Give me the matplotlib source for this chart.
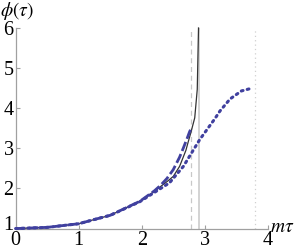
import matplotlib
matplotlib.use("Agg")
import matplotlib.pyplot as plt
import matplotlib.transforms as mtransforms
import numpy as np

plt.rcParams['mathtext.fontset'] = 'stix'
plt.rcParams['font.family'] = 'Liberation Serif'

x_exact = [0, 0.5, 1.0, 1.33, 1.5, 1.97, 2.2, 2.3, 2.4, 2.5, 2.6, 2.7, 2.74, 2.78, 2.84, 2.88, 2.90]
phi_exact = [1.0, 1.03, 1.12, 1.26, 1.33, 1.68, 1.93, 2.05, 2.17, 2.30, 2.55, 2.95, 3.18, 3.40, 3.76, 4.47, 6.0]

x_dashed = [0, 0.5, 1.0, 1.33, 1.5, 1.97, 2.2, 2.3, 2.4, 2.5, 2.6, 2.66, 2.72, 2.76, 2.78]
phi_dashed = [1.0, 1.03, 1.12, 1.26, 1.33, 1.68, 1.94, 2.08, 2.25, 2.47, 2.78, 3.01, 3.25, 3.42, 3.48]

x_dotted = [0, 0.5, 1.0, 1.33, 1.5, 1.97, 2.2, 2.44, 2.66, 2.92, 3.16, 3.24, 3.40, 3.58, 3.70, 3.76]
phi_dotted = [1.0, 1.03, 1.12, 1.26, 1.33, 1.67, 1.90, 2.14, 2.55, 3.22, 3.74, 3.93, 4.23, 4.43, 4.48, 4.49]

x_dash_line = 2.78
x_solid_line = 2.91
x_dot_line = 3.79

blue = '#40409f'

fig = plt.figure(figsize=(3.0, 2.52), dpi=100)
ax = fig.add_axes([0.052, 0.093, 0.841, 0.796])

ax.axvline(x_dash_line, color='#c8c8c8', lw=0.9, ls=(0, (4, 3)))
ax.axvline(x_solid_line, color='#d0d0d0', lw=1.3)
ax.axvline(x_dot_line, color='#d0d0d0', lw=0.9, ls=(0, (1, 2.5)))

ax.plot(x_exact, phi_exact, color='#333333', lw=0.9, clip_on=False, zorder=3)
ax.plot(x_dashed, phi_dashed, color=blue, lw=2.0, ls=(0, (3.5, 1.2)), clip_on=False, zorder=4)
ax.plot(x_dotted, phi_dotted, color=blue, lw=2.2, ls=(0, (0.6, 1.4)),
        dash_capstyle='round', clip_on=False, zorder=4)

ax.set_xlim(0, 4)
ax.set_ylim(1, 6)
ax.set_xticks([0, 1, 2, 3, 4])
ax.set_yticks([1, 2, 3, 4, 5, 6])
for s in ['top', 'right']:
    ax.spines[s].set_visible(False)
for s in ['left', 'bottom']:
    ax.spines[s].set_color('#a0a0a0')
    ax.spines[s].set_linewidth(0.9)
ax.tick_params(direction='in', length=3, width=0.8, color='#a0a0a0',
               labelsize=14.5)
ax.tick_params(axis='x', pad=2)
ax.tick_params(axis='y', pad=1.5)

# lowest y label sits a bit higher, clear of the "0"
lab = ax.yaxis.get_major_ticks()[0].label1
lab.set_transform(lab.get_transform() +
                  mtransforms.ScaledTranslation(0, 4 / 72, fig.dpi_scale_trans))

ax.text(-0.062, 1.03, r'$\phi(\tau)$', transform=ax.transAxes, fontsize=14,
        ha='left', va='bottom')
ax.text(1.008, -0.018, r'$m\tau$', transform=ax.transAxes, fontsize=14,
        ha='left', va='baseline')

fig.savefig('out.png', dpi=100)
